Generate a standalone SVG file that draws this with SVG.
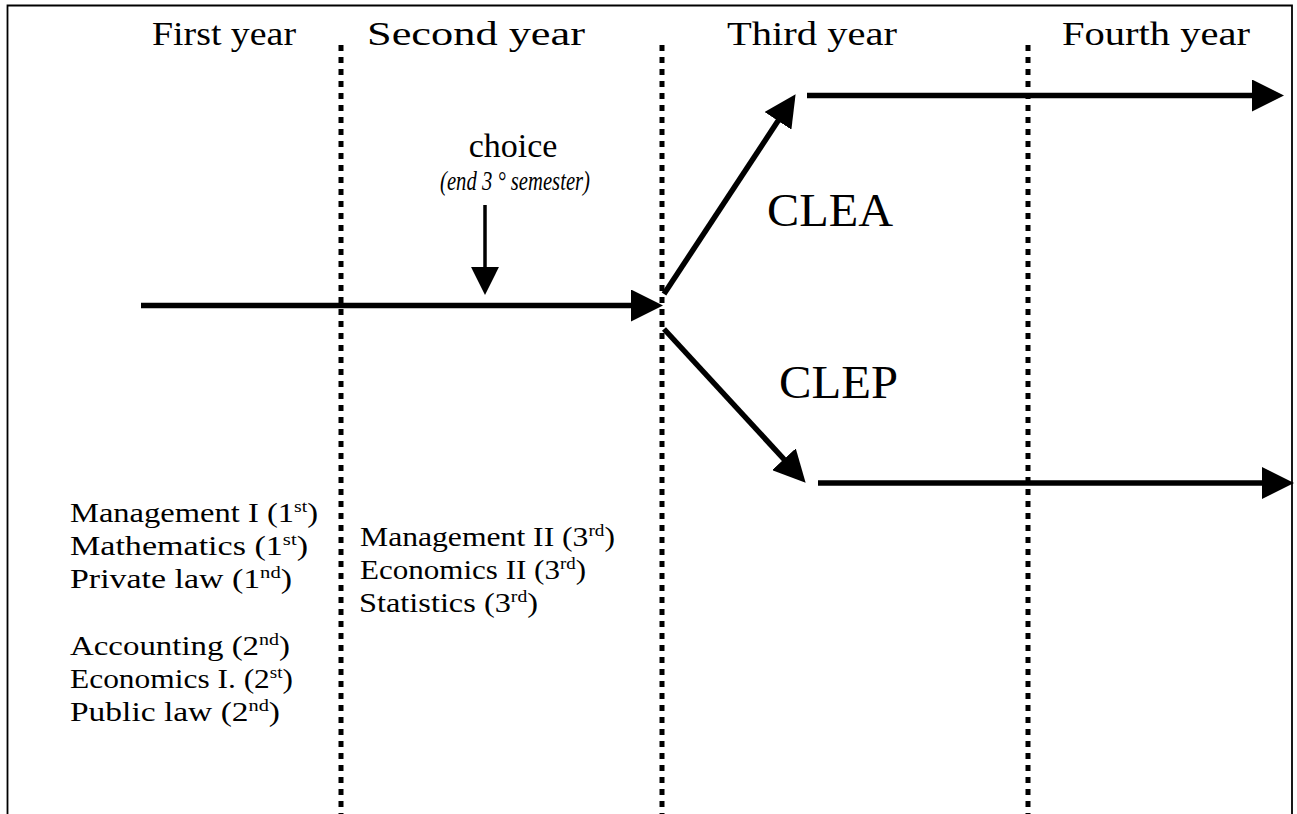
<svg xmlns="http://www.w3.org/2000/svg" width="1297" height="814" viewBox="0 0 1297 814">
<defs>
<style>
.t{font-family:"Liberation Serif","Times New Roman",serif;fill:#000}
.hd{font-size:34px}
.big{font-size:46px}
.crs{font-size:28px}
.sup{font-size:17px}
.it{font-style:italic;font-size:27px}
.dot{stroke:#000;stroke-width:5;stroke-dasharray:6 6;fill:none}
.arr{stroke:#000;stroke-width:5.5;fill:none;marker-end:url(#ah)}
.arrs{stroke:#000;stroke-width:3.5;fill:none;marker-end:url(#ahs)}
</style>
<marker id="ah" markerUnits="userSpaceOnUse" markerWidth="32" markerHeight="32" viewBox="0 0 30 30" refX="15" refY="15" orient="auto"><path d="M0,0 L30,15 L0,30 z" fill="#000"/></marker>
<marker id="ahs" markerUnits="userSpaceOnUse" markerWidth="28" markerHeight="28" viewBox="0 0 26 26" refX="14" refY="13" orient="auto"><path d="M0,0 L26,13 L0,26 z" fill="#000"/></marker>
</defs>
<rect width="1297" height="814" fill="#fff"/>
<path id="frame" d="M7.5,814 V5.5 H1292 V814" fill="none" stroke="#000" stroke-width="1.8"/>
<g id="dividers">
<line class="dot" x1="341" y1="45" x2="341" y2="814"/>
<line class="dot" x1="662" y1="45" x2="662" y2="814"/>
<line class="dot" x1="1028" y1="45" x2="1028" y2="814"/>
</g>
<g id="headers">
<text id="h1" class="t hd" x="152" y="45" textLength="144" lengthAdjust="spacingAndGlyphs">First year</text>
<text id="h2" class="t hd" x="367" y="45" textLength="218" lengthAdjust="spacingAndGlyphs">Second  year</text>
<text id="h3" class="t hd" x="727" y="45" textLength="170" lengthAdjust="spacingAndGlyphs">Third  year</text>
<text id="h4" class="t hd" x="1062" y="45" textLength="188" lengthAdjust="spacingAndGlyphs">Fourth  year</text>
</g>
<g id="connectors">
<line class="arr" x1="141" y1="305.5" x2="647" y2="305.5"/>
<line class="arrs" x1="485" y1="205" x2="485" y2="282"/>
<line class="arr" x1="664" y1="294" x2="786.8" y2="107.5"/>
<line class="arr" x1="807" y1="95.5" x2="1268" y2="95.5"/>
<line class="arr" x1="664" y1="329" x2="794.8" y2="471"/>
<line class="arr" x1="818" y1="483" x2="1278" y2="483"/>
</g>
<g id="choice">
<text class="t hd" x="513" y="157" text-anchor="middle">choice</text>
<text class="t it" x="440" y="190" textLength="150" lengthAdjust="spacingAndGlyphs">(end 3 ° semester)</text>
</g>
<g id="clea"><text class="t big" x="767" y="226" textLength="126" lengthAdjust="spacingAndGlyphs">CLEA</text></g>
<g id="clep"><text class="t big" x="779" y="398" textLength="119" lengthAdjust="spacingAndGlyphs">CLEP</text></g>
<g id="first-year-courses">
<text class="t crs" x="70" y="522" textLength="248" lengthAdjust="spacingAndGlyphs">Management I (1<tspan class="sup" dy="-10">st</tspan><tspan dy="10">)</tspan></text>
<text class="t crs" x="70" y="555" textLength="238" lengthAdjust="spacingAndGlyphs">Mathematics (1<tspan class="sup" dy="-10">st</tspan><tspan dy="10">)</tspan></text>
<text class="t crs" x="70" y="588" textLength="222" lengthAdjust="spacingAndGlyphs">Private law (1<tspan class="sup" dy="-10">nd</tspan><tspan dy="10">)</tspan></text>
<text class="t crs" x="70" y="655" textLength="220" lengthAdjust="spacingAndGlyphs">Accounting (2<tspan class="sup" dy="-10">nd</tspan><tspan dy="10">)</tspan></text>
<text class="t crs" x="70" y="688" textLength="223" lengthAdjust="spacingAndGlyphs">Economics I. (2<tspan class="sup" dy="-10">st</tspan><tspan dy="10">)</tspan></text>
<text class="t crs" x="70" y="721" textLength="210" lengthAdjust="spacingAndGlyphs">Public law (2<tspan class="sup" dy="-10">nd</tspan><tspan dy="10">)</tspan></text>
</g>
<g id="second-year-courses">
<text class="t crs" x="360" y="546" textLength="255" lengthAdjust="spacingAndGlyphs">Management II (3<tspan class="sup" dy="-10">rd</tspan><tspan dy="10">)</tspan></text>
<text class="t crs" x="360" y="579" textLength="226" lengthAdjust="spacingAndGlyphs">Economics II (3<tspan class="sup" dy="-10">rd</tspan><tspan dy="10">)</tspan></text>
<text class="t crs" x="359" y="612" textLength="179" lengthAdjust="spacingAndGlyphs">Statistics (3<tspan class="sup" dy="-10">rd</tspan><tspan dy="10">)</tspan></text>
</g>
</svg>
